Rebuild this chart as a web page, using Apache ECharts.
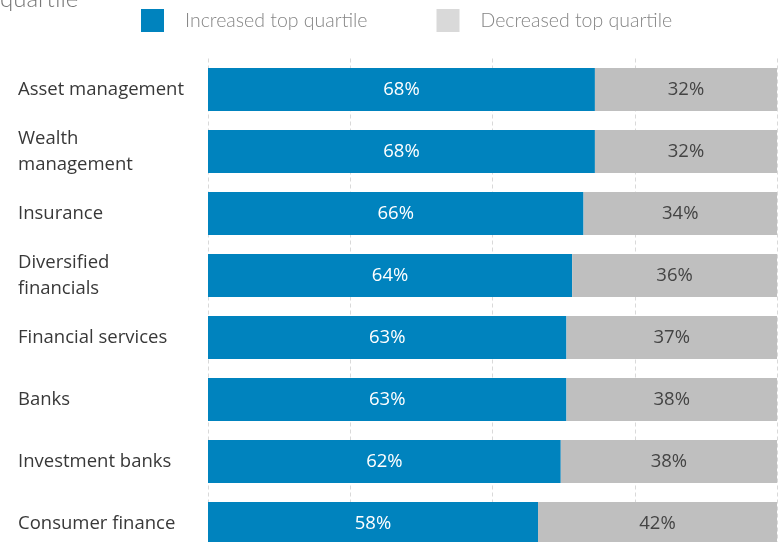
<!DOCTYPE html>
<html>
<head>
<meta charset="utf-8">
<script src="https://cdn.jsdelivr.net/npm/echarts@6/dist/echarts.min.js"></script>
<style>
  html, body { margin: 0; padding: 0; background: #fff; }
  #chart { width: 782px; height: 542px; }
</style>
</head>
<body>
<div id="chart"></div>
<script>
// Sectors, top to bottom
const categories = [
  'Asset management',
  'Wealth\nmanagement',
  'Insurance',
  'Diversified\nfinancials',
  'Financial services',
  'Banks',
  'Investment banks',
  'Consumer finance'
];
// Share of firms (%)
const increased = [68, 68, 66, 64, 63, 63, 62, 58];
const decreased = [32, 32, 34, 36, 37, 38, 38, 42];
const seriesNames = ['Increased top quartile', 'Decreased top quartile'];

const chart = echarts.init(document.getElementById('chart'));

const labelFont = "'Open Sans', 'Noto Sans', sans-serif";

chart.setOption({
  animation: false,
  title: {
    text: 'quartile',
    left: 0,
    top: -13,
    padding: 0,
    textStyle: { fontFamily: 'Lato', fontWeight: 300, fontSize: 24, color: '#777' }
  },
  legend: {
    left: 141,
    top: 9,
    padding: 0,
    itemWidth: 23,
    itemHeight: 23,
    itemGap: 69,
    icon: 'rect',
    selectedMode: false,
    textStyle: {
      fontFamily: 'Lato',
      fontWeight: 300,
      fontSize: 19.5,
      color: '#858585',
      padding: [0, 0, 0, 16]
    },
    data: [
      { name: seriesNames[0], itemStyle: { color: '#0083BE' } },
      { name: seriesNames[1], itemStyle: { color: '#D9D9D9' } }
    ]
  },
  // The last row runs past the bottom edge of the canvas
  grid: { left: 208, width: 569, top: 58.5, height: 496, containLabel: false, outerBoundsMode: 'none' },
  xAxis: {
    type: 'value',
    min: 0,
    max: 100,
    interval: 25,
    axisLabel: { show: false },
    axisLine: { show: false },
    axisTick: { show: false },
    splitLine: { show: true, lineStyle: { color: '#D9D9D9', type: [4, 3], width: 1 } }
  },
  yAxis: {
    type: 'category',
    inverse: true,
    data: categories,
    axisLine: { show: false },
    axisTick: { show: false },
    axisLabel: {
      align: 'left',
      margin: 190,
      fontFamily: labelFont,
      fontSize: 18.5,
      lineHeight: 26,
      color: '#383838'
    }
  },
  series: [
    {
      name: seriesNames[0],
      type: 'bar',
      stack: 'total',
      data: increased,
      barWidth: 43,
      itemStyle: { color: '#0083BE' },
      label: {
        show: true,
        position: 'inside',
        formatter: '{c}%',
        fontFamily: labelFont,
        fontSize: 18.5,
        color: '#fff'
      }
    },
    {
      name: seriesNames[1],
      type: 'bar',
      stack: 'total',
      data: decreased,
      barWidth: 43,
      itemStyle: { color: '#BFBFBF' },
      label: {
        show: true,
        position: 'inside',
        formatter: '{c}%',
        fontFamily: labelFont,
        fontSize: 18.5,
        color: '#444'
      }
    }
  ]
});
</script>
</body>
</html>
